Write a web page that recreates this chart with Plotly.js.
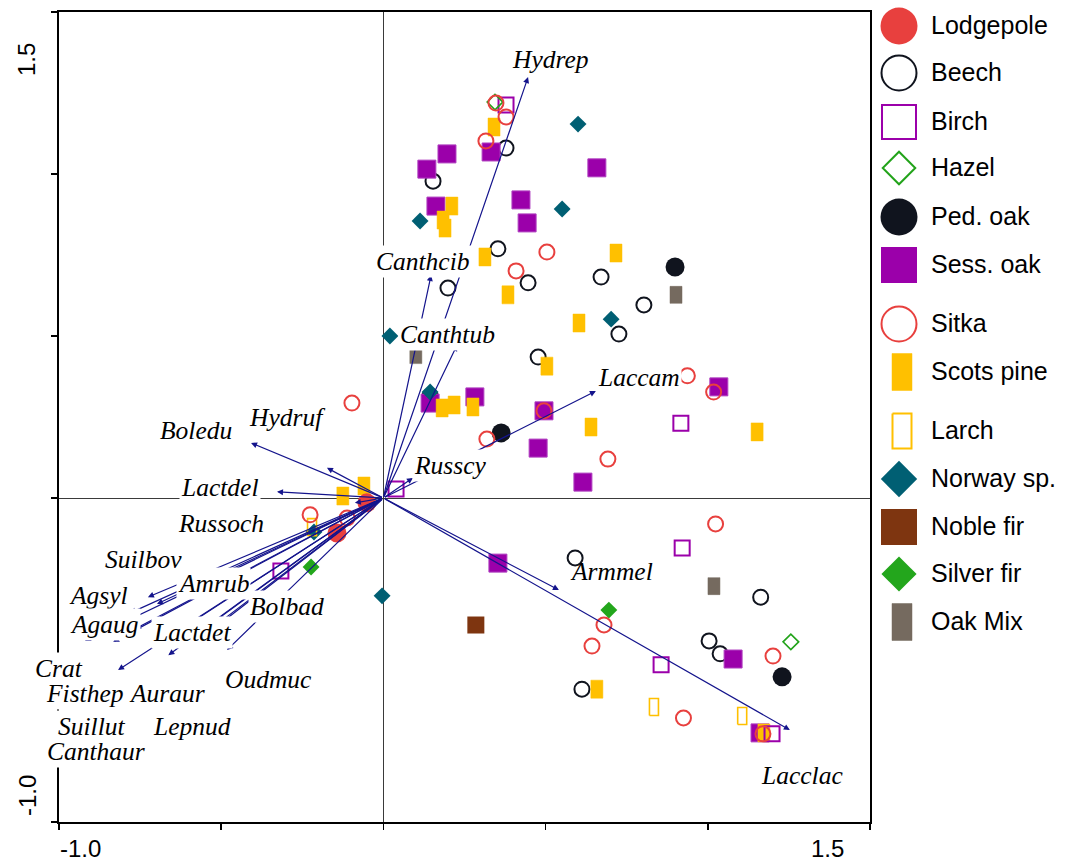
<!DOCTYPE html>
<html><head><meta charset="utf-8">
<script src="https://cdn.plot.ly/plotly-3.0.1.min.js"></script>
<style>html,body{margin:0;padding:0;background:#fff}#chart{width:1065px;height:866px}</style>
</head><body><div id="chart"></div>
<script>
// ---------- sample scores (site groups) ----------
const lodgepoleX = [-0.051, -0.143];
const lodgepoleY = [-0.015, -0.108];
const beechX = [0.153, 0.378, 0.353, 0.199, 0.446, 0.671, 0.803, 0.726, 0.477, 0.144, 0.591, 1.163, 1.004, 1.038, 0.612];
const beechY = [0.978, 1.080, 0.769, 0.648, 0.664, 0.682, 0.596, 0.506, 0.435, 0.315, -0.185, -0.306, -0.441, -0.481, -0.590];
const birchX = [0.378, 0.039, -0.316, 0.917, 0.921, 0.856, 1.198];
const birchY = [1.213, 0.028, -0.225, 0.231, -0.154, -0.515, -0.728];
const hazelX = [0.344, 1.256];
const hazelY = [1.222, -0.444];
const pedOakX = [0.899, 0.363, 1.229];
const pedOakY = [0.713, 0.201, -0.552];
const sessOakX = [0.134, 0.196, 0.332, 0.162, 0.424, 0.443, 0.658, 0.144, 0.282, 0.495, 0.477, 0.615, 1.034, 0.353, 1.078, 1.161];
const sessOakY = [1.015, 1.062, 1.068, 0.901, 0.920, 0.849, 1.019, 0.293, 0.312, 0.269, 0.154, 0.049, 0.343, -0.201, -0.497, -0.725];
const sitkaX = [-0.097, -0.226, -0.112, 0.347, 0.378, 0.316, 0.504, 0.409, 0.319, 0.495, 0.692, 0.937, 1.018, 1.024, 0.680, 0.643, 0.925, 1.201, 1.170];
const sitkaY = [0.293, -0.052, -0.062, 1.219, 1.176, 1.102, 0.759, 0.701, 0.182, 0.269, 0.120, 0.377, 0.327, -0.080, -0.392, -0.457, -0.679, -0.488, -0.728];
const scotsPineX = [0.341, 0.211, 0.184, 0.190, 0.313, 0.384, 0.717, 0.603, 0.504, 0.181, 0.218, 0.276, 0.640, 1.152, -0.060, -0.125, 0.658, 1.173];
const scotsPineY = [1.145, 0.901, 0.858, 0.833, 0.744, 0.627, 0.756, 0.540, 0.407, 0.278, 0.287, 0.281, 0.219, 0.204, 0.037, 0.006, -0.590, -0.725];
const larchX = [0.834, 1.106, -0.220];
const larchY = [-0.645, -0.673, -0.090];
const norwayX = [0.600, 0.551, 0.113, 0.702, 0.020, 0.144, -0.214, -0.004];
const norwayY = [1.154, 0.892, 0.855, 0.552, 0.500, 0.327, -0.105, -0.302];
const nobleFirX = [0.285];
const nobleFirY = [-0.392];
const silverFirX = [-0.223, 0.695];
const silverFirY = [-0.213, -0.346];
const oakMixX = [0.902, 0.100, 1.019];
const oakMixY = [0.627, 0.441, -0.272];

// ---------- species arrows ----------
const speciesNames = ['Hydrep','Canthcib','Canthtub','Laccam','Russcy','Armmel','Lacclac','Boledu','Hydruf','Lactdel','Russoch',
  'Suilbov','Amrub','Agsyl','Agaug','Crat','Fisthep','Auraur','Lactdet','Lepnud','Bolbad','Oudmuc','Suillut','Canthaur'];
const arrowX = [0.446, 0.147, 0.227, 0.655, 0.091, 0.541, 1.253, -0.408, -0.174, -0.328, -0.088,
  -0.726, -0.698, -0.781, -0.833, -0.920, -0.818, -0.766, -0.663, -0.581, -0.535, -0.482, -0.612, -0.504];
const arrowY = [1.299, 0.688, 0.472, 0.330, 0.062, -0.284, -0.716, 0.170, 0.093, 0.019, -0.015,
  -0.306, -0.327, -0.355, -0.444, -0.441, -0.531, -0.404, -0.485, -0.448, -0.389, -0.469, -0.395, -0.383];
const labelX = [0.514, 0.122, 0.199, 0.788, 0.205, 0.702, 1.290, -0.578, -0.297, -0.504, -0.501,
  -0.738, -0.525, -0.877, -0.861, -1.000, -0.920, -0.667, -0.590, -0.590, -0.297, -0.353, -0.898, -0.886];
const labelY = [1.352, 0.731, 0.506, 0.373, 0.099, -0.228, -0.855, 0.207, 0.247, 0.031, -0.080,
  -0.191, -0.265, -0.302, -0.389, -0.525, -0.602, -0.602, -0.414, -0.704, -0.336, -0.559, -0.704, -0.781];

// ---------- axis tick labels ----------
const xTickLabels = ['-1.0', '1.5'];
const yTickLabels = ['-1.0', '1.5'];

// ---------- legend ----------
const legendNames = ['Lodgepole','Beech','Birch','Hazel','Ped. oak','Sess. oak','Sitka','Scots pine','Larch','Norway sp.','Noble fir','Silver fir','Oak Mix'];

// ===== layout constants =====
const PX_X = 324.4, PX_Y = 324;           // pixels per data unit
const LEG_ROWS = [26, 73, 122, 168, 217, 265, 324, 372, 431, 479, 527, 574, 622];
const LEG_MX = 899, LEG_RX = 902, LEG_TX = 929;
const NAVY = '#14148c';
const C = {red:'#e8403e', black:'#10141e', purple:'#9b00aa', green:'#22a31a', yellow:'#ffc000',
  teal:'#005f73', brown:'#7e3510', sgreen:'#23a61c', gray:'#756a5f'};

function rects(xs, ys, hw, hh) {
  const X = [], Y = [];
  xs.forEach((x, i) => {
    const y = ys[i];
    X.push(x - hw, x + hw, x + hw, x - hw, x - hw, null);
    Y.push(y - hh, y - hh, y + hh, y + hh, y - hh, null);
  });
  return {X, Y};
}
function mk(x, y, symbol, size, color, lineColor, lineWidth, ax) {
  return {type:'scatter', mode:'markers', x, y, xaxis: ax ? 'x2' : 'x', yaxis: ax ? 'y2' : 'y',
    cliponaxis:false, hoverinfo:'skip', showlegend:false,
    marker:{symbol, size, color, line:{color:lineColor, width:lineWidth}}};
}
function rectTrace(r, fillColor, lineColor, lineWidth, ax, filled) {
  return {type:'scatter', mode:'lines', x:r.X, y:r.Y, xaxis: ax ? 'x2' : 'x', yaxis: ax ? 'y2' : 'y',
    fill: filled ? 'toself' : 'none', fillcolor: fillColor, hoverinfo:'skip', showlegend:false,
    line:{color:lineColor, width:lineWidth}};
}

const traces = [];
// plot groups
traces.push(mk(beechX, beechY, 'circle-open', 15, C.black, C.black, 2));
traces.push(mk(pedOakX, pedOakY, 'circle', 19, C.black, C.black, 0));
traces.push(mk(sessOakX, sessOakY, 'square', 18, C.purple, '#b040c0', 1));
traces.push(rectTrace(rects(scotsPineX, scotsPineY, 6/PX_X, 9/PX_Y), C.yellow, C.yellow, 0.5, false, true));
traces.push(rectTrace(rects(oakMixX, oakMixY, 6/PX_X, 8.5/PX_Y), C.gray, C.gray, 0.5, false, true));
traces.push(mk(nobleFirX, nobleFirY, 'square', 17, C.brown, C.brown, 0));
traces.push(mk(norwayX, norwayY, 'diamond', 13, C.teal, C.teal, 0));
traces.push(mk(silverFirX, silverFirY, 'diamond', 13, C.sgreen, C.sgreen, 0));
traces.push(rectTrace(rects(larchX, larchY, 4.5/PX_X, 8.5/PX_Y), 'rgba(0,0,0,0)', C.yellow, 1.6, false, false));
traces.push(mk(lodgepoleX, lodgepoleY, 'circle', 19, C.red, C.red, 0));
traces.push(mk(birchX, birchY, 'square-open', 15, C.purple, C.purple, 2));
traces.push(mk(hazelX, hazelY, 'diamond-open', 12, C.green, C.green, 1.6));
traces.push(mk(sitkaX, sitkaY, 'circle-open', 15, C.red, C.red, 2));

// legend markers (x2/y2 in pixel units)
const R = LEG_ROWS;
traces.push(mk([LEG_MX], [R[0]], 'circle', 37, C.red, C.red, 0, true));
traces.push(mk([LEG_MX], [R[1]], 'circle-open', 35, C.black, C.black, 2, true));
traces.push(mk([LEG_MX], [R[2]], 'square-open', 34, C.purple, C.purple, 2, true));
traces.push(mk([LEG_MX], [R[3]], 'diamond-open', 25, C.green, C.green, 2, true));
traces.push(mk([LEG_MX], [R[4]], 'circle', 37, C.black, C.black, 0, true));
traces.push(mk([LEG_MX], [R[5]], 'square', 36, C.purple, C.purple, 0, true));
traces.push(mk([LEG_MX], [R[6]], 'circle-open', 35, C.red, C.red, 2, true));
traces.push(rectTrace(rects([LEG_RX], [R[7]], 10, 18.5), C.yellow, C.yellow, 0.5, true, true));
traces.push(rectTrace(rects([LEG_RX], [R[8]], 9.5, 17.5), 'rgba(0,0,0,0)', C.yellow, 2, true, false));
traces.push(mk([LEG_MX], [R[9]], 'diamond', 28, C.teal, C.teal, 0, true));
traces.push(mk([LEG_MX], [R[10]], 'square', 36, C.brown, C.brown, 0, true));
traces.push(mk([LEG_MX], [R[11]], 'diamond', 27, C.sgreen, C.sgreen, 0, true));
traces.push(rectTrace(rects([LEG_RX], [R[12]], 10, 18.5), C.gray, C.gray, 0.5, true, true));

const annotations = [];
// species arrows
speciesNames.forEach((n, i) => {
  annotations.push({xref:'x', yref:'y', axref:'x', ayref:'y', x: arrowX[i], y: arrowY[i], ax: 0, ay: 0,
    text:'', showarrow:true, arrowhead:2, arrowsize:1, arrowwidth:1.2, arrowcolor:NAVY, standoff:0});
});
// species labels
speciesNames.forEach((n, i) => {
  annotations.push({xref:'x', yref:'y', x: labelX[i], y: labelY[i], text:'<i>' + n + '</i>', showarrow:false,
    xanchor:'center', yanchor:'middle', bgcolor: n === 'Armmel' ? 'rgba(0,0,0,0)' : '#ffffff', borderpad:1,
    font:{family:'Liberation Serif, Times New Roman, serif', size:25.5, color:'#000'}});
});
// tick labels
const TF = {family:'Liberation Sans, Arial, sans-serif', size:24, color:'#000'};
const tl = (x, y, text, angle) => ({xref:'paper', yref:'paper', x, y, text, textangle:angle || 0, showarrow:false,
  xanchor:'center', yanchor:'middle', font:TF});
annotations.push(tl((80-59)/1006, (822-848)/810, xTickLabels[0]));
annotations.push(tl((827-59)/1006, (822-848)/810, xTickLabels[1]));
annotations.push(tl((27-59)/1006, (822-796)/810, yTickLabels[0], -90));
annotations.push(tl((27-59)/1006, (822-60)/810, yTickLabels[1], -90));
// legend texts
legendNames.forEach((n, i) => {
  annotations.push({xref:'x2', yref:'y2', x: LEG_TX, y: LEG_ROWS[i] - 1.5, text:n, showarrow:false,
    xanchor:'left', yanchor:'middle', font:{family:'Liberation Sans, Arial, sans-serif', size:25, color:'#000'}});
});

const axisBase = {range:[-1, 1.5], tickvals:[-1, -0.5, 0, 0.5, 1, 1.5], ticks:'outside', ticklen:6, tickwidth:1.5,
  tickcolor:'#000', showticklabels:false, showgrid:false, zeroline:true, zerolinecolor:'#3a3a3a', zerolinewidth:1,
  showline:true, mirror:true, linecolor:'#000', linewidth:2, fixedrange:true};

const layout = {
  width:1065, height:866, margin:{l:59, r:0, t:12, b:44}, paper_bgcolor:'#fff', plot_bgcolor:'#fff',
  showlegend:false,
  xaxis: Object.assign({}, axisBase, {domain:[0, 811/1006], anchor:'y'}),
  yaxis: Object.assign({}, axisBase, {domain:[0, 1], anchor:'x'}),
  xaxis2: {domain:[811/1006, 1], range:[870, 1065], visible:false, anchor:'y2', fixedrange:true},
  yaxis2: {domain:[0, 1], range:[822, 12], visible:false, anchor:'x2', fixedrange:true},
  annotations
};
Plotly.newPlot('chart', traces, layout, {staticPlot:true, displayModeBar:false});
</script></body></html>
